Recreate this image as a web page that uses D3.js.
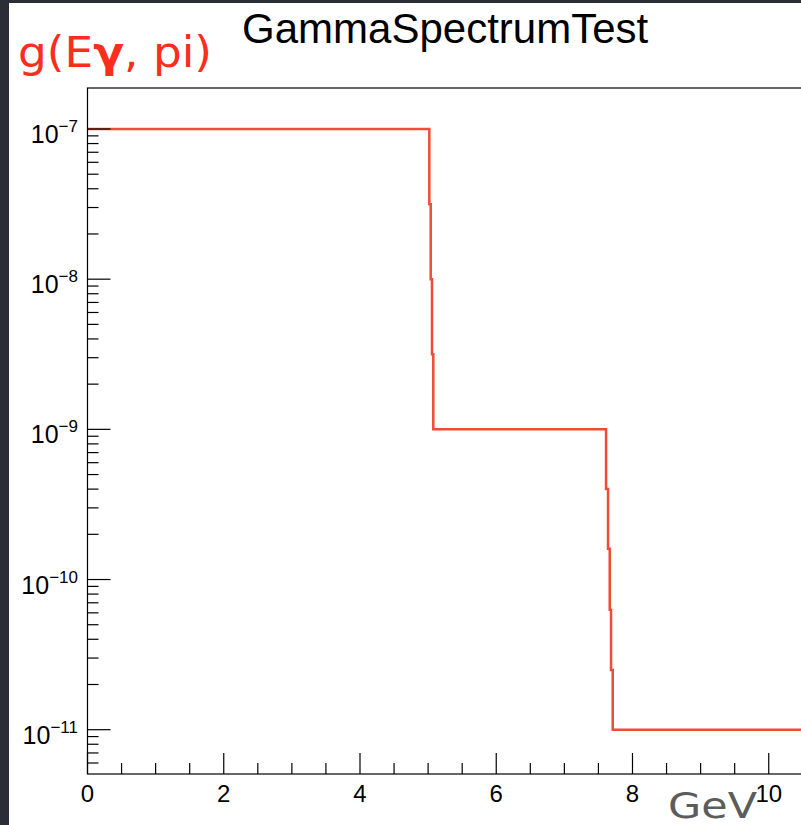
<!DOCTYPE html>
<html>
<head>
<meta charset="utf-8">
<script src="https://cdn.jsdelivr.net/npm/d3@7"></script>
<style>
  html, body { margin: 0; padding: 0; background: #2b2e37; }
  svg { display: block; }
</style>
</head>
<body>
<svg id="chart" width="801" height="825"></svg>
<script>
// ---- data ----
const binEdges = [0, 5.018, 5.038, 5.057, 5.076, 7.612, 7.641, 7.666, 7.685, 7.71, 10.5];
const binValues = [1e-7, 3.16e-8, 1e-8, 3.16e-9, 1e-9, 4e-10, 1.6e-10, 6.3e-11, 2.5e-11, 1e-11];
const xTicks = [0, 2, 4, 6, 8, 10];
const xMinorTicks = [0.5, 1, 1.5, 2.5, 3, 3.5, 4.5, 5, 5.5, 6.5, 7, 7.5, 8.5, 9, 9.5, 10.5];
const yExponents = [-7, -8, -9, -10, -11];
const xDomain = [0, 10.5];
const yDomain = [Math.pow(10, -11.295), Math.pow(10, -6.727)];
const titleText = "GammaSpectrumTest";
const yLabelText = ["g(E", "γ", ", pi)"];
const xUnitText = "GeV";

// ---- layout ----
const svg = d3.select("#chart");
const pL = 87.5, pR = 802.8, pT = 88, pB = 774;

svg.append("rect").attr("x", 0).attr("y", 0).attr("width", 801).attr("height", 825).attr("fill", "#2b2e37");
svg.append("rect").attr("x", 9).attr("y", 3).attr("width", 792).attr("height", 822).attr("fill", "#ffffff");

const x = d3.scaleLinear().domain(xDomain).range([pL, pR]);
const y = d3.scaleLog().domain(yDomain).range([pB, pT]);

// histogram step line
const pts = [];
binValues.forEach((v, i) => {
  pts.push([binEdges[i], v]);
  pts.push([binEdges[i + 1], v]);
});
const line = d3.line().x(d => x(d[0])).y(d => y(d[1]));
svg.append("path").datum(pts)
  .attr("d", line)
  .attr("fill", "none")
  .attr("stroke", "#ef4b36")
  .attr("stroke-width", 2.5);

// frame
svg.append("rect").attr("x", pL).attr("y", pT)
  .attr("width", pR - pL).attr("height", pB - pT)
  .attr("fill", "none").attr("stroke", "#000").attr("stroke-width", 1.2);

// x axis ticks (inside, pointing up)
const gx = svg.append("g").attr("stroke", "#000").attr("stroke-width", 1.2);
xTicks.forEach(t => {
  gx.append("line").attr("x1", x(t)).attr("x2", x(t)).attr("y1", pB).attr("y2", pB - 21);
});
xMinorTicks.forEach(t => {
  gx.append("line").attr("x1", x(t)).attr("x2", x(t)).attr("y1", pB).attr("y2", pB - 11);
});
svg.append("g").selectAll("text").data(xTicks).join("text")
  .attr("x", d => x(d)).attr("y", 802)
  .attr("text-anchor", "middle")
  .attr("font-family", "Liberation Sans, Arial, sans-serif")
  .attr("font-size", 24)
  .attr("fill", "#000")
  .text(d => d);

// y axis ticks (log)
const gy = svg.append("g").attr("stroke", "#000").attr("stroke-width", 1.2);
const lo = Math.floor(Math.log10(yDomain[0])), hi = Math.ceil(Math.log10(yDomain[1]));
for (let e = lo; e <= hi; e++) {
  for (let m = 1; m <= 9; m++) {
    const v = m * Math.pow(10, e);
    if (v < yDomain[0] || v > yDomain[1]) continue;
    const len = m === 1 ? 23 : 11;
    gy.append("line").attr("x1", pL).attr("x2", pL + len).attr("y1", y(v)).attr("y2", y(v));
  }
}
const yl = svg.append("g").selectAll("text").data(yExponents).join("text")
  .attr("x", 78).attr("y", d => y(Math.pow(10, d)) + 14)
  .attr("text-anchor", "end")
  .attr("font-family", "Liberation Sans, Arial, sans-serif")
  .attr("font-size", 25)
  .attr("fill", "#000");
yl.append("tspan").text("10");
yl.append("tspan").attr("dy", -11).attr("font-size", 17).text(d => "−" + Math.abs(d));

// title
svg.append("text").attr("x", (pL + pR) / 2).attr("y", 43)
  .attr("text-anchor", "middle")
  .attr("font-family", "Liberation Sans, Arial, sans-serif")
  .attr("font-size", 42)
  .attr("fill", "#000")
  .text(titleText);

// y label (red)
const lab = svg.append("text").attr("x", 18).attr("y", 67)
  .attr("font-family", "'DejaVu Sans', Lato, sans-serif")
  .attr("font-size", 42)
  .attr("textLength", 194)
  .attr("lengthAdjust", "spacingAndGlyphs")
  .attr("fill", "#fb2d1c");
lab.append("tspan").text(yLabelText[0]);
lab.append("tspan").attr("font-weight", "bold").text(yLabelText[1]);
lab.append("tspan").text(yLabelText[2]);

// x unit (grey)
svg.append("text").attr("x", 668).attr("y", 818)
  .attr("font-family", "'DejaVu Sans', Lato, sans-serif")
  .attr("font-size", 36)
  .attr("textLength", 89)
  .attr("lengthAdjust", "spacingAndGlyphs")
  .attr("fill", "#5c5c5c")
  .text(xUnitText);
</script>
</body>
</html>
